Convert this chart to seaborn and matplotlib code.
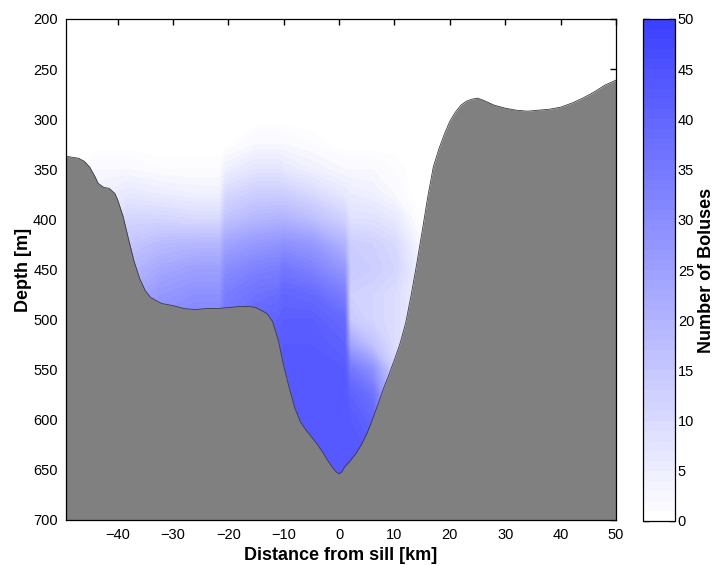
import numpy as np
import pandas as pd
import matplotlib
matplotlib.use("Agg")
import matplotlib.pyplot as plt
from matplotlib.colors import LinearSegmentedColormap
import seaborn as sns

# ---------------- data ----------------
# bathymetry along the section
bathy_x = [-49.3, -47, -46, -45, -44, -43.5, -42.5, -41.5, -40.5, -40, -39, -38, -37, -36,
           -35, -34, -32, -30, -28, -26, -24, -22, -20, -18, -16, -15, -14, -13, -12, -11,
           -10, -9, -8, -7, -6, -5, -4, -3, -2, -1, -0.5, 0, 0.5, 1, 2, 3, 4, 5, 6, 7, 8,
           9, 10, 11, 12, 13, 14, 15, 16, 17, 18, 19, 20, 21, 22, 23, 24, 25, 26, 28, 30,
           32, 34, 36, 38, 40, 42, 44, 46, 48, 50]
bathy_depth = [337, 339, 342, 348, 358, 364, 368, 369, 374, 380, 397, 420, 442, 459,
               471, 478, 484, 486, 489, 490, 489, 489, 488, 487, 487, 488, 491, 494, 502, 520,
               546, 568, 588, 602, 610, 617, 624, 632, 641, 649, 652, 654, 652, 647, 641, 634, 625, 614, 600, 585, 569,
               555, 540, 524, 504, 476, 445, 412, 378, 348, 330, 315, 302, 293, 286, 282, 280, 279, 281, 286, 289,
               291, 292, 291, 290, 288, 284, 279, 273, 266, 261]

# bolus count field (columns = distance, rows = depth)
grid_x = [-50, -44, -38, -32, -26, -21.5, -20.5, -15, -11, -10, -5, 1, 2, 6, 10, 14, 20]
grid_depth = [300, 325, 350, 375, 400, 425, 450, 475, 500, 525, 550, 575, 600, 625, 650, 675]
counts_300 = [0, 0, 0, 0, 0, 0, 0, 0, 0, 0, 0, 0, 0, 0, 0, 0, 0]
counts_325 = [0, 0, 0, 0, 0, 0, 0, 2, 2, 2, 1, 0, 0, 0, 0, 0, 0]
counts_350 = [0, 2, 2, 1, 1, 1, 4, 7, 7, 6, 4, 2, 2, 2, 1, 0, 0]
counts_375 = [1, 4, 6, 5, 4, 4, 10, 13, 13, 13, 10, 6, 5, 4, 2, 0, 0]
counts_400 = [2, 6, 11, 11, 10, 10, 16, 19, 20, 20, 17, 12, 8, 8, 6, 1, 0]
counts_425 = [3, 8, 15, 18, 19, 19, 24, 27, 28, 29, 27, 20, 13, 12, 10, 3, 0]
counts_450 = [4, 10, 19, 23, 25, 25, 30, 33, 34, 36, 33, 27, 14, 13, 11, 5, 0]
counts_475 = [5, 12, 22, 27, 29, 29, 34, 37, 38, 40, 39, 34, 12, 11, 9, 5, 0]
counts_500 = [6, 14, 25, 30, 32, 32, 36, 40, 41, 42, 42, 39, 14, 11, 9, 5, 0]
counts_525 = [6, 14, 25, 30, 32, 32, 37, 41, 42, 43, 43, 41, 24, 16, 9, 5, 0]
counts_550 = [6, 14, 25, 30, 32, 32, 37, 42, 43, 44, 44, 43, 36, 29, 12, 5, 0]
counts_575 = [6, 14, 25, 30, 32, 32, 37, 43, 44, 44, 44, 44, 41, 37, 15, 5, 0]
counts_600 = [6, 14, 25, 30, 32, 32, 37, 43, 44, 44, 44, 44, 43, 40, 20, 5, 0]
counts_625 = [6, 14, 25, 30, 32, 32, 37, 43, 44, 44, 44, 44, 44, 42, 20, 5, 0]
counts_650 = [6, 14, 25, 30, 32, 32, 37, 43, 44, 44, 44, 44, 44, 42, 20, 5, 0]
counts_675 = [6, 14, 25, 30, 32, 32, 37, 43, 44, 44, 44, 44, 44, 42, 20, 5, 0]

x_ticks = [-40, -30, -20, -10, 0, 10, 20, 30, 40, 50]
y_ticks = [200, 250, 300, 350, 400, 450, 500, 550, 600, 650, 700]
cbar_ticks = [0, 5, 10, 15, 20, 25, 30, 35, 40, 45, 50]

# ---------------- style ----------------
sns.set_style("white")
plt.rcParams['font.family'] = ['Liberation Sans', 'DejaVu Sans']
for key in ["text.color", "axes.labelcolor", "xtick.color", "ytick.color"]:
    plt.rcParams[key] = "black"

fig = plt.figure(figsize=(7.19, 5.65), dpi=100)
ax = fig.add_axes([66 / 719, 45 / 565, 550 / 719, 501 / 565])
cax = fig.add_axes([643 / 719, 44 / 565, 32 / 719, 502 / 565])

Z = np.array([counts_300, counts_325, counts_350, counts_375, counts_400, counts_425,
              counts_450, counts_475, counts_500, counts_525, counts_550, counts_575,
              counts_600, counts_625, counts_650, counts_675], dtype=float)

cmap = LinearSegmentedColormap.from_list("bolus", [(1, 1, 1), (0.235, 0.25, 1.0)], N=256)
norm = matplotlib.colors.Normalize(vmin=0, vmax=50)
# field: leave counts below 0.5 unfilled (pure white background)
field_levels = np.concatenate([[0.5], np.arange(1, 51, 1)])
ax.contourf(grid_x, grid_depth, Z, levels=field_levels, cmap=cmap, norm=norm, zorder=1)

bathy = pd.DataFrame({"x": bathy_x, "depth": bathy_depth})
ax.fill_between(bathy["x"], bathy["depth"], 720, color="#808080", zorder=2, linewidth=0)
sns.lineplot(data=bathy, x="x", y="depth", ax=ax, color="#3c3c3c", linewidth=0.6,
             zorder=3, sort=False, estimator=None)

ax.set_xlim(-49.3, 50)
ax.set_ylim(700, 200)
ax.set_xticks(x_ticks)
ax.set_yticks(y_ticks)
ax.tick_params(direction="in", top=True, right=True, length=4, width=1, labelsize=10.5,
               color="black", pad=6)
for s in ax.spines.values():
    s.set_color("black")
    s.set_linewidth(0.9)
    s.set_zorder(5)
ax.set_xlabel("Distance from sill [km]", fontsize=13, fontweight="bold", labelpad=3)
ax.set_ylabel("Depth [m]", fontsize=13, fontweight="bold", labelpad=1)

# colorbar with 50 discrete bands
sm = matplotlib.cm.ScalarMappable(norm=matplotlib.colors.BoundaryNorm(np.arange(0, 51, 1), 256), cmap=cmap)
cb = fig.colorbar(sm, cax=cax, ticks=cbar_ticks)
cb.minorticks_off()
cb.outline.set_linewidth(0.9)
cb.outline.set_edgecolor("black")
cax.tick_params(which="both", direction="in", left=True, right=True, length=4, width=1,
                labelsize=10.5, pad=2)
cax.tick_params(which="minor", length=0)
cax.set_ylabel("Number of Boluses", fontsize=13, fontweight="bold", labelpad=3)

fig.savefig("out.png", dpi=100)
